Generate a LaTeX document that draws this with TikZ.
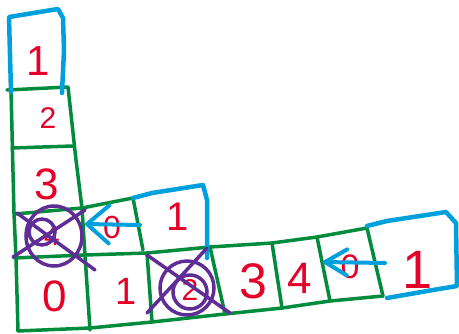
\documentclass[tikz,border=0pt]{standalone}
\usepackage{fontspec}
\setmainfont{Liberation Sans}
\usetikzlibrary{arrows.meta}
\definecolor{vert}{RGB}{0,140,60}
\definecolor{bleu}{RGB}{0,160,220}
\definecolor{rouge}{RGB}{230,0,40}
\definecolor{violet}{RGB}{95,45,150}
\tikzset{
  grille/.style={vert,line width=3.5pt,line cap=round,line join=round},
  cadre/.style={bleu,line width=4.5pt,line cap=round,line join=round},
  barre/.style={violet,line width=3.5pt,line cap=round},
  fleche/.style={bleu,line width=4pt,line cap=round},
  chiffre/.style={rouge,inner sep=0pt,font=\fontsize{#1}{#1}\selectfont},
  chiffre/.default=40
}
\begin{document}
\begin{tikzpicture}[x=1pt,y=-1pt]
        \useasboundingbox (0,0) rectangle (459,333);
        \draw[grille] (7,90) -- (68,87) -- (76,160) -- (82,208) -- (85,255) -- (90,330);
        \draw[grille] (11,90) -- (14,213) -- (16,258) -- (18,331);
        \draw[grille] (12,148) -- (73,146);
        \draw[grille] (15,214) -- (82,208) -- (133,198) -- (143,250);
        \draw[grille] (14,258) -- (85,255) -- (147,253) -- (210,247) -- (272,243) -- (317,237) -- (367,228);
        \draw[grille] (18,331) -- (90,328) -- (152,322) -- (225,314) -- (282,308) -- (330,301) -- (383,296);
        \draw[grille] (147,253) -- (152,322);
        \draw[grille] (210,247) -- (225,314);
        \draw[grille] (272,243) -- (282,308);
        \draw[grille] (317,237) -- (330,301);
        \draw[grille] (367,228) -- (383,296);
        \draw[cadre] (11,92) -- (9,17) -- (58,9) -- (63,18) -- (64,50) -- (62,93);
        \draw[cadre] (133,198) -- (152,193) -- (203,185) -- (207,200) -- (207,258);
        \draw[cadre] (367,226) -- (387,221) -- (446,212) -- (456,223) -- (457,286) -- (433,290) -- (387,298);
        \node[chiffre=42] (un-haut) at (38,61) {1};
        \node[chiffre=30] (deux) at (48,118) {2};
        \node[chiffre=44] (trois) at (47,184) {3};
        \node[chiffre=28] (quatre-barre) at (52,236) {4};
        \node[chiffre=32] (zero-petit) at (112,227) {0};
        \node[chiffre=40] (un-milieu) at (178,217) {1};
        \node[chiffre=44] (zero-bas) at (55,296) {0};
        \node[chiffre=38] (un-bas) at (126,291) {1};
        \node[chiffre=30] (deux-barre) at (190,290) {2};
        \node[chiffre=50] (trois-bas) at (253,281) {3};
        \node[chiffre=44] (quatre-bas) at (300,278) {4};
        \node[chiffre=34] (zero-droite) at (350,267) {0};
        \node[chiffre=54] (un-droite) at (418,270) {1};
        \draw[barre] (54,236) ellipse [x radius=28, y radius=30];
        \draw[barre] (42,232) circle [radius=13];
        \draw[barre] (17,213) -- (95,270);
        \draw[barre] (13,257) -- (85,210);
        \draw[barre] (187,288) ellipse [x radius=27, y radius=27];
        \draw[barre] (190,292) circle [radius=17];
        \draw[barre] (147,255) -- (230,313);
        \draw[barre] (147,313) -- (207,248);
        \coordinate (depart-haut) at (140,225);
        \coordinate (arrivee-haut) at (85,224);
        \coordinate (depart-bas) at (385,263);
        \coordinate (arrivee-bas) at (323,262);
        \draw[fleche,-{Straight Barb[length=22pt,width=38pt,round]}] (depart-haut) -- (arrivee-haut);
        \draw[fleche,-{Straight Barb[length=22pt,width=26pt,round]}] (depart-bas) -- (arrivee-bas);
    \end{tikzpicture}
\end{document}
